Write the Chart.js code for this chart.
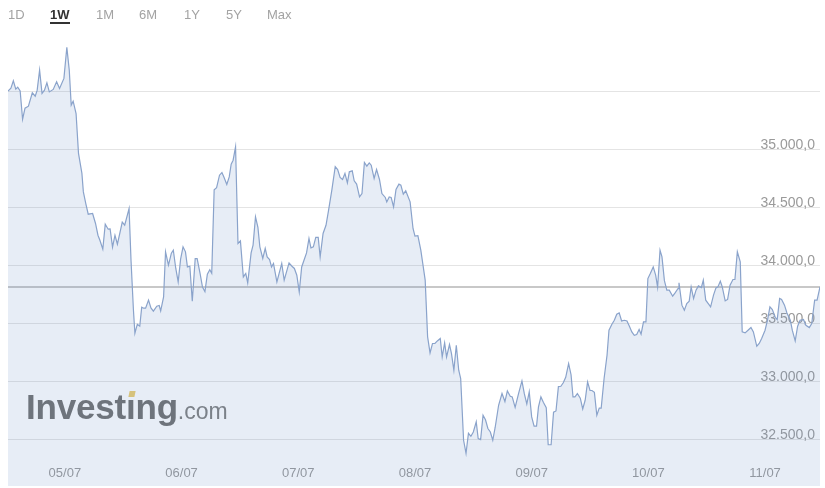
<!DOCTYPE html>
<html>
<head>
<meta charset="utf-8">
<script src="https://cdn.jsdelivr.net/npm/chart.js@4.4.0/dist/chart.umd.min.js"></script>
<style>
  html, body { margin: 0; padding: 0; background: #fff; }
  body { width: 825px; height: 488px; position: relative; overflow: hidden; font-family: 'Liberation Sans', Arial, sans-serif; }
  #wrap { position: absolute; left: 0; top: 0; width: 825px; height: 488px; }
  .range { position: absolute; top: 8px; line-height: 14px; font-size: 13px; color: #a3a3a3; }
  .range.on { color: #333; font-weight: bold; border-bottom: 2px solid #333; }
  #logo { position: absolute; left: 26px; top: 389px; line-height: 35px; white-space: nowrap; pointer-events: none; }
  #logo .big { font-size: 35px; font-weight: bold; color: #6e747c; letter-spacing: -0.2px; }
  #logo .small { font-size: 23px; color: #7b8189; }
  #dot { position: absolute; left: 129px; top: 391px; width: 6px; height: 6px; background: #d6c27c; transform: skewX(-12deg); }
</style>
</head>
<body>
<div id="wrap"><canvas id="chart"></canvas></div>

<span class="range" style="left:8px">1D</span>
<span class="range on" style="left:50px">1W</span>
<span class="range" style="left:96px">1M</span>
<span class="range" style="left:139px">6M</span>
<span class="range" style="left:184px">1Y</span>
<span class="range" style="left:226px">5Y</span>
<span class="range" style="left:267px">Max</span>

<div id="logo"><span class="big">Investıng</span><span class="small">.com</span></div>
<div id="dot"></div>

<script>
// time in hours from the first point (04/07 ~12:00), price per point
const hours = [
  0, 0.6, 1.1, 1.6, 2.0, 2.5, 3.0, 3.5, 4.2, 5.0, 5.6, 6.0, 6.5, 7.0, 7.5, 8.0, 8.5, 9.3, 10.0, 10.6,
  11.5, 12.1, 12.6, 13.0, 13.4, 14.0, 14.5, 15.2, 15.5, 16.0, 16.5, 17.4, 18.0, 18.5, 18.9, 19.5, 20.0,
  20.6, 21.0, 21.5, 22.0, 22.5, 23.5, 24.0, 24.9, 25.3, 25.8,
  26.1, 26.6, 27.1, 27.5, 27.9, 28.3, 28.9, 29.4, 29.9, 30.6, 31.1, 31.4, 32.0, 32.4,
  33.0, 33.6, 34.0, 34.5, 35.0, 35.5, 36.0, 36.5, 36.9, 37.4, 37.9, 38.5, 38.9, 39.5, 40.0, 40.5, 41.0,
  41.5, 41.9, 42.4, 42.9, 43.5, 44.0, 44.4, 45.0, 45.5, 45.9, 46.3, 46.8, 47.3, 47.8, 48.4, 48.9, 49.3,
  50.0, 50.4, 50.9, 51.4, 51.8, 52.4, 52.9, 53.3, 53.8, 54.2, 54.6, 55.3, 56.3, 56.8, 57.8, 58.4, 58.9,
  59.4, 59.9, 60.4, 61.0, 61.4, 61.9, 62.3, 62.8, 63.3, 63.8, 64.2, 64.8, 65.4, 65.9, 66.6, 67.3,
  67.8, 68.3, 68.8, 69.3, 69.8, 70.2, 70.8, 71.2, 71.7, 72.3, 72.8, 73.3, 73.8, 74.3, 74.7, 75.3, 75.8,
  76.4, 76.9, 77.6, 77.9, 78.4, 78.8, 79.3, 79.8, 80.4, 80.8, 81.3, 81.8, 82.7, 83.3, 83.7, 84.3, 84.9,
  85.3, 85.8,
  86.3, 86.8, 87.3, 87.8, 88.3, 88.9, 89.3, 89.8, 90.2, 90.8, 91.2, 91.7, 92.2, 92.7, 93.1, 93.7, 94.2,
  94.7, 95.2, 95.7, 96.3, 96.7, 97.2, 97.7, 98.2, 98.7, 99.2, 99.7, 100.2, 100.9,
  101.6, 102.2, 102.7, 103.3, 103.7, 104.3, 105.0, 105.7, 106.2, 106.7, 107.2, 107.7, 108.2, 108.7,
  109.1, 109.6, 110.1, 110.7, 111.1, 111.7, 112.2, 112.7, 113.2, 113.7, 114.2, 114.7, 115.3, 115.8,
  116.2, 116.6, 117.1, 117.7, 118.2, 118.7, 119.2, 119.7, 120.1, 120.6, 121.1, 121.6, 122.0, 122.6, 123.2,
  123.6, 124.2, 124.7, 125.2, 125.7, 126.2, 126.8, 127.3, 127.8, 128.3, 128.8, 129.3, 129.8, 130.2,
  130.7, 131.2, 131.6, 132.1, 132.7, 133.2, 133.6, 134.1, 134.5, 135.0,
  135.5, 136.0, 136.7, 137.2, 137.8, 138.0, 138.6, 139.1, 139.6, 140.1, 140.5, 141.0, 141.5, 142.0,
  142.6, 143.0, 143.5, 144.1, 144.5, 145.1, 145.6, 146.0, 146.5, 146.9, 147.5, 148.0, 148.5, 149.1,
  149.5, 150.0, 150.6, 151.0, 151.6, 152.2, 152.8, 153.3, 154.0, 154.5, 155.0, 155.7, 156.2, 156.7,
  157.2, 157.8, 158.2, 158.7, 159.1, 159.7, 160.2, 160.9, 161.3, 161.9, 162.4, 162.9, 163.6, 164.1,
  164.8, 165.3, 165.9, 166.4, 167.0
];

const prices = [
  35500, 35525, 35588, 35517, 35534, 35502, 35258, 35353, 35370, 35485, 35456, 35508, 35680, 35480, 35508, 35571, 35493, 35514, 35580, 35523,
  35609, 35876, 35680, 35379, 35413, 35307, 34963, 34791, 34632, 34532, 34440, 34446, 34360, 34259, 34216, 34139, 34354,
  34311, 34314, 34156, 34259, 34182, 34371, 34345, 34488, 34044, 33613,
  33415, 33493, 33476, 33639, 33631, 33631, 33700, 33633, 33605, 33648, 33654, 33607, 33728, 34116,
  34001, 34104, 34130, 33975, 33857, 34053, 34159, 34116, 33986, 33992, 33691, 34057, 34057, 33930, 33812, 33773, 33923,
  33962, 33932, 34651, 34668, 34776, 34799, 34761, 34696, 34761, 34871, 34905, 35020, 34188, 34210, 33900, 33930, 33849,
  34107, 34173, 34417, 34326, 34159, 34059, 34145, 34072, 34050, 33986, 34016, 33857, 34016, 33872, 34021, 33992, 33973,
  33915, 33771, 33986, 34059, 34107, 34231, 34150, 34159, 34240, 34240, 34072, 34274, 34345, 34466, 34647, 34849,
  34825, 34756, 34739, 34791, 34710, 34805, 34813, 34727, 34699, 34589, 34618, 34885, 34854, 34882, 34862, 34748, 34825,
  34739, 34618, 34584, 34546, 34589, 34584, 34503, 34653, 34699, 34690, 34612, 34641, 34546, 34317, 34251, 34255, 34130,
  34016, 33872,
  33384, 33246, 33327, 33327, 33349, 33370, 33211, 33332, 33211, 33318, 33241, 33097, 33312, 33097, 33025, 32494, 32382,
  32554, 32528, 32565, 32652, 32509, 32500, 32709, 32670, 32595, 32565, 32494, 32606, 32795,
  32896, 32827, 32918, 32873, 32867, 32776, 32896, 33005, 32893, 32807, 32910, 32695, 32615, 32615,
  32781, 32867, 32821, 32774, 32455, 32455, 32735, 32746, 32956, 32959, 32989, 33036, 33154, 33058,
  32867, 32867, 32896, 32856, 32763, 32838, 32996, 32922, 32922, 32906, 32709, 32771, 32771, 33028, 33226,
  33441, 33493, 33527, 33579, 33590, 33521, 33527, 33521, 33476, 33427, 33398, 33404, 33447, 33407,
  33513, 33513, 33886, 33930, 33986, 33915, 33812, 34130, 34072, 33868,
  33786, 33786, 33734, 33762, 33800, 33849, 33657, 33613, 33671, 33691, 33814, 33714, 33786, 33823,
  33809, 33872, 33700, 33665, 33642, 33743, 33806, 33814, 33863, 33814, 33694, 33706, 33829, 33878,
  33878, 34116, 34029, 33427, 33418, 33441, 33464, 33427, 33303, 33327, 33370, 33441, 33527, 33642,
  33619, 33551, 33533, 33714, 33706, 33657, 33590, 33527, 33441, 33349, 33476, 33527, 33533, 33484,
  33464, 33499, 33700, 33700, 33814
];

const dayTicks = [11.7, 35.7, 59.7, 83.7, 107.7, 131.7, 155.7];
const dayLabels = ['05/07', '06/07', '07/07', '08/07', '09/07', '10/07', '11/07'];
const priceGrid = [32500, 33000, 33500, 34000, 34500, 35000, 35500];
const priceLabelMax = 35000;
const priceMin = 32100;
const priceMax = 36000;

const lastPrice = prices[prices.length - 1];

function fmtPrice(v) {
  return Math.round(v).toString().replace(/\B(?=(\d{3})+(?!\d))/g, '.') + ',0';
}

Chart.defaults.font.family = "'Liberation Sans', Arial, sans-serif";

new Chart(document.getElementById('chart'), {
  type: 'line',
  data: {
    datasets: [
      {
        data: hours.map((h, i) => ({ x: h, y: prices[i] })),
        borderColor: '#8aa3cb',
        borderWidth: 1.2,
        backgroundColor: 'rgba(95, 135, 195, 0.15)',
        fill: 'start',
        pointRadius: 0,
        tension: 0,
      },
      {
        data: [{ x: hours[0], y: lastPrice }, { x: hours[hours.length - 1], y: lastPrice }],
        borderColor: '#c8c8c8',
        borderWidth: 2,
        pointRadius: 0,
        fill: false,
      },
    ],
  },
  options: {
    responsive: true,
    maintainAspectRatio: false,
    animation: false,
    events: [],
    layout: { padding: { top: 33, left: 8, right: 5, bottom: 0 } },
    plugins: { legend: { display: false }, tooltip: { enabled: false } },
    scales: {
      x: {
        type: 'linear',
        min: 0,
        max: 167,
        grid: { display: false, drawTicks: false },
        border: { display: false },
        afterBuildTicks: (s) => { s.ticks = dayTicks.map((v) => ({ value: v })); },
        afterFit: (s) => { s.height = 2; s.paddingLeft = 0; s.paddingRight = 0; },
        ticks: {
          mirror: true,
          autoSkip: false,
          maxRotation: 0,
          padding: 5,
          color: '#9a9a9a',
          font: { size: 13 },
          callback: (v, i) => dayLabels[i],
        },
      },
      y: {
        position: 'right',
        min: priceMin,
        max: priceMax,
        afterBuildTicks: (s) => { s.ticks = priceGrid.map((v) => ({ value: v })); },
        afterFit: (s) => { s.width = 0; s.paddingTop = 0; s.paddingBottom = 0; },
        grid: { color: '#e4e4e4', drawTicks: false, lineWidth: 1 },
        border: { display: false },
        ticks: {
          mirror: true,
          padding: -5,
          labelOffset: -4,
          color: '#9a9a9a',
          font: { size: 14 },
          callback: (v) => (v <= priceLabelMax ? fmtPrice(v) : ''),
        },
      },
    },
  },
});
</script>
</body>
</html>
